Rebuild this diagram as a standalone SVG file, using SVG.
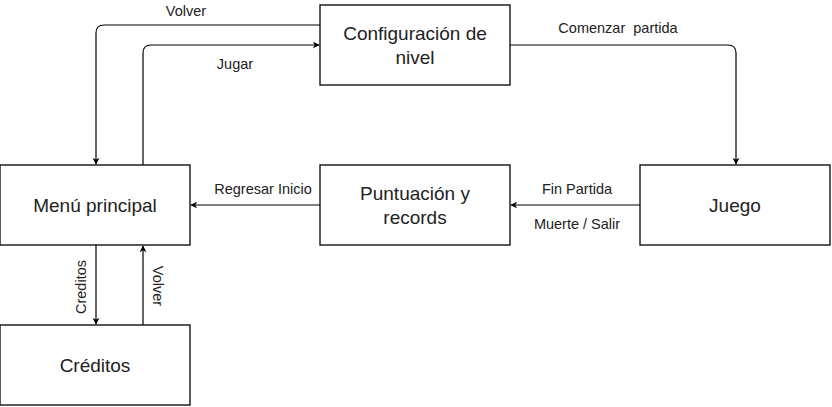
<svg xmlns="http://www.w3.org/2000/svg" width="832" height="407" viewBox="0 0 832 407">
<style>
.box{fill:#fff;stroke:#000;stroke-width:1.3}
.nl{font-family:"Liberation Sans",Arial,sans-serif;font-size:19px;fill:#222;text-anchor:middle;dominant-baseline:central}
.el{font-family:"Liberation Sans",Arial,sans-serif;font-size:14.5px;fill:#222;text-anchor:middle;dominant-baseline:central}
.c{fill:none;stroke:#000;stroke-width:1.2}
</style>
<defs>
<marker id="a" viewBox="0 0 10 10" refX="9" refY="5" markerWidth="7" markerHeight="7" orient="auto" markerUnits="userSpaceOnUse">
<path d="M0,0 L10,5 L0,10 L3,5 Z" fill="#000"/>
</marker>
</defs>
<rect width="832" height="407" fill="#fff"/>
<g id="connectors">
<path class="c" d="M320,25 H104 Q96,25 96,33 V164" marker-end="url(#a)"/>
<path class="c" d="M143,165 V53 Q143,45 151,45 H319" marker-end="url(#a)"/>
<path class="c" d="M510,45 H728 Q736,45 736,53 V164" marker-end="url(#a)"/>
<path class="c" d="M640,205 H511" marker-end="url(#a)"/>
<path class="c" d="M320,205 H191" marker-end="url(#a)"/>
<path class="c" d="M96,245 V324" marker-end="url(#a)"/>
<path class="c" d="M143,325 V246" marker-end="url(#a)"/>
<text class="el" x="186" y="11">Volver</text>
<text class="el" x="235" y="64">Jugar</text>
<text class="el" x="618" y="28" xml:space="preserve">Comenzar  partida</text>
<text class="el" x="577" y="189">Fin Partida</text>
<text class="el" x="577" y="224">Muerte / Salir</text>
<text class="el" x="263" y="189">Regresar Inicio</text>
<text class="el" transform="translate(81,287) rotate(-90)">Creditos</text>
<text class="el" transform="translate(158,286) rotate(90)">Volver</text>
</g>
<g id="config">
<rect class="box" x="320" y="5" width="190" height="80"/>
<text class="nl" x="415" y="33">Configuración de</text>
<text class="nl" x="415" y="57">nivel</text>
</g>
<g id="menu">
<rect class="box" x="0" y="165" width="190" height="80"/>
<text class="nl" x="95" y="205">Menú principal</text>
</g>
<g id="puntuacion">
<rect class="box" x="320" y="165" width="190" height="80"/>
<text class="nl" x="415" y="193">Puntuación y</text>
<text class="nl" x="415" y="217">records</text>
</g>
<g id="juego">
<rect class="box" x="640" y="165" width="190" height="80"/>
<text class="nl" x="735" y="205">Juego</text>
</g>
<g id="creditos">
<rect class="box" x="0" y="325" width="190" height="80"/>
<text class="nl" x="95" y="365">Créditos</text>
</g>
</svg>
